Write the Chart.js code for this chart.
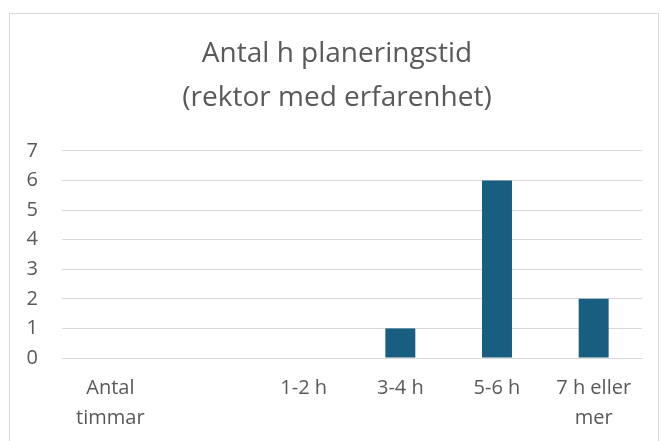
<!DOCTYPE html>
<html><head><meta charset="utf-8">
<script src="https://cdn.jsdelivr.net/npm/chart.js@4"></script>
<style>
html,body{margin:0;padding:0;background:#fff;overflow:hidden}
#wrap{position:relative;width:661px;height:441px}
#frame{position:absolute;left:9px;top:13px;width:650px;height:440px;border:1px solid #d9d9d9;box-sizing:border-box}
canvas{position:absolute;left:0;top:0}
</style></head>
<body><div id="wrap"><div id="frame"></div><canvas id="c" width="661" height="441"></canvas></div>
<script>
const categories = [["Antal","timmar"], "", "1-2 h", "3-4 h", "5-6 h", ["7 h eller","mer"]];
const values = [0, 0, 0, 1, 6, 2];
const titleLines = ["Antal h planeringstid", "(rektor med erfarenhet)"];
const yMax = 7;

const FONT = "'Open Sans', sans-serif";
const shiftTitle = { id: 'shiftTitle', afterLayout(chart) { const t = chart.titleBlock; if (t) { t.left += 11; t.right += 11; } } };
new Chart(document.getElementById('c'), {
  type: 'bar',
  data: { labels: categories, datasets: [{ data: values, backgroundColor: '#175e81', categoryPercentage: 1, barPercentage: 0.31 }] },
  plugins: [shiftTitle],
  options: {
    responsive: false, animation: false,
    layout: { padding: { left: 10, right: 19, top: 32, bottom: 0 } },
    plugins: {
      legend: { display: false }, tooltip: { enabled: false },
      title: { display: true, text: titleLines, color: '#595959', font: { family: FONT, size: 28, weight: 'normal', lineHeight: 1.57 }, padding: { top: 0, bottom: 31 } }
    },
    scales: {
      x: {
        grid: { display: false, drawTicks: false },
        border: { color: '#d9d9d9' },
        ticks: { color: '#595959', font: { family: FONT, size: 20, lineHeight: 1.5 }, padding: 15, maxRotation: 0, autoSkip: false },
        afterFit: s => { s.height = 83; }
      },
      y: {
        min: 0, max: yMax,
        grid: { color: '#d9d9d9', drawTicks: false },
        border: { display: false },
        ticks: { stepSize: 1, color: '#595959', font: { family: FONT, size: 20 }, padding: 24 },
        afterFit: s => { s.width = 52; }
      }
    }
  }
});
</script></body></html>
